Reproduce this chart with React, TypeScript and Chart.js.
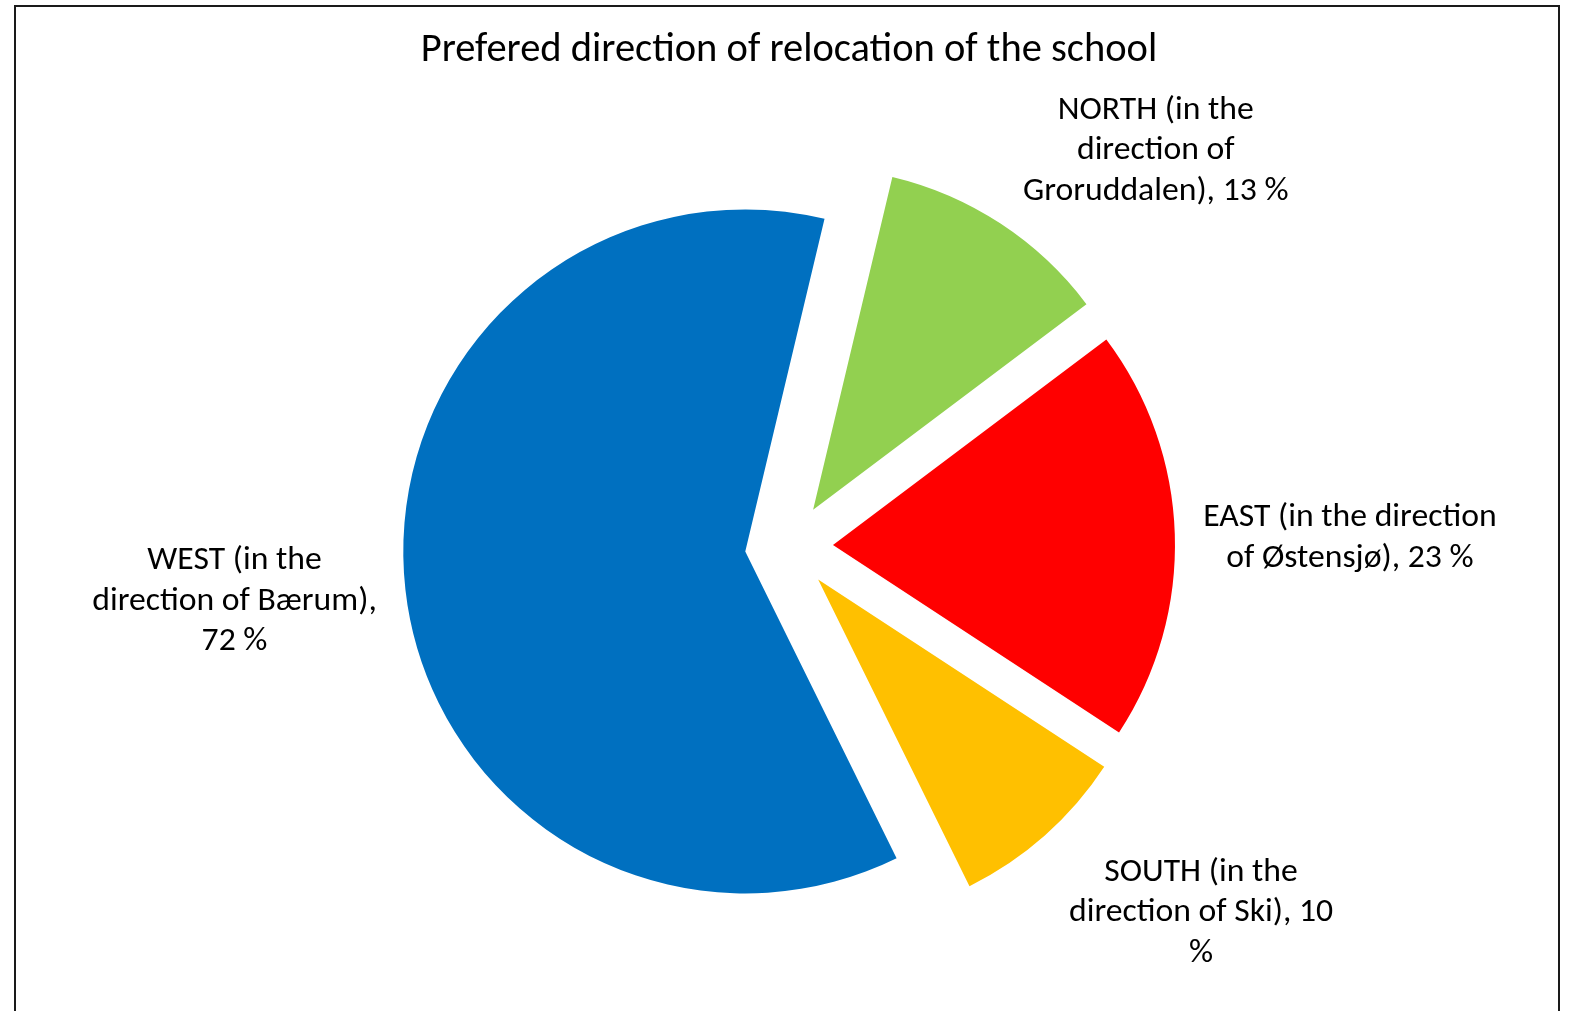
import React, { useEffect, useRef } from "react";
import { Chart, registerables } from "chart.js";

Chart.register(...registerables);

const TITLE = "Prefered direction of relocation of the school";
const categories = [
  "NORTH (in the direction of Groruddalen)",
  "EAST (in the direction of Østensjø)",
  "SOUTH (in the direction of Ski)",
  "WEST (in the direction of Bærum)",
];
const values = [13, 23, 10, 72];
const colors = ["#92D050", "#FF0000", "#FFC000", "#0070C0"];
// words per wrapped line of each data label
const lineWordCounts = [
  [3, 2, 3],
  [4, 4],
  [3, 4, 1],
  [3, 3, 2],
];

const FONT = "Calibri, Carlito, Lato, sans-serif";
const W = 1570;
const H = 1011;

// layout (not data): explosion distance and label placement
const explode = [44, 44, 44, 44];
const labelNudgeDeg = [9.45, 0.8, -7.0, 1.0];
const labelDist = [541, 561, 550, 557];
const labelFontSize = 33.7;
const labelLineHeight = 40.7;
const labelShiftY = 2;

function wrapLabel(i: number): string[] {
  const words = `${categories[i]}, ${values[i]} %`.split(" ");
  const out: string[] = [];
  let k = 0;
  for (const n of lineWordCounts[i]) {
    out.push(words.slice(k, k + n).join(" "));
    k += n;
  }
  return out;
}

const explodePlugin = {
  id: "explodeSlices",
  beforeDatasetDraw(chart: any, args: any) {
    const { ctx } = chart;
    args.meta.data.forEach((arc: any, i: number) => {
      const d = explode[i] ?? 0;
      const mid = (arc.startAngle + arc.endAngle) / 2;
      ctx.save();
      ctx.translate(Math.cos(mid) * d, Math.sin(mid) * d);
      arc.draw(ctx, chart.chartArea);
      ctx.restore();
    });
    return false;
  },
};

const labelPlugin = {
  id: "sliceLabels",
  afterDatasetsDraw(chart: any) {
    const { ctx } = chart;
    const meta = chart.getDatasetMeta(0);
    ctx.save();
    ctx.font = `${labelFontSize}px ${FONT}`;
    ctx.fillStyle = "#000000";
    ctx.textAlign = "center";
    ctx.textBaseline = "middle";
    meta.data.forEach((arc: any, i: number) => {
      const mid = (arc.startAngle + arc.endAngle) / 2 + (labelNudgeDeg[i] * Math.PI) / 180;
      const cx = arc.x + Math.cos(mid) * labelDist[i];
      const cy = arc.y + Math.sin(mid) * labelDist[i] + labelShiftY;
      const lines = wrapLabel(i);
      const top = cy - ((lines.length - 1) * labelLineHeight) / 2;
      lines.forEach((ln, j) => ctx.fillText(ln, cx, top + j * labelLineHeight));
    });
    ctx.restore();
  },
};

export default function App() {
  const ref = useRef<HTMLCanvasElement>(null);

  useEffect(() => {
    if (!ref.current) return;
    const chart = new Chart(ref.current, {
      type: "pie",
      data: {
        labels: categories,
        datasets: [
          {
            data: values,
            backgroundColor: colors,
            borderWidth: 0,
            hoverOffset: 0,
          },
        ],
      },
      options: {
        responsive: false,
        animation: false,
        rotation: 13.4,
        radius: 342,
        layout: { padding: { left: 8, right: 0, top: 0, bottom: 0 } },
        plugins: {
          legend: { display: false },
          tooltip: { enabled: false },
          title: {
            display: true,
            text: TITLE,
            color: "#000000",
            font: { family: FONT, size: 40.5, weight: "normal", lineHeight: 1.2 },
            padding: { top: 26.7, bottom: 6.7 },
          },
        },
      } as any,
      plugins: [explodePlugin, labelPlugin],
    });
    return () => chart.destroy();
  }, []);

  return (
    <div
      style={{
        position: "fixed",
        left: 0,
        top: 0,
        width: W,
        height: H,
        overflow: "hidden",
        background: "#ffffff",
      }}
    >
      <canvas
        ref={ref}
        width={W}
        height={H}
        style={{ position: "absolute", left: 0, top: 0, width: W, height: H }}
      />
      <div
        style={{
          position: "absolute",
          left: 14,
          top: 5,
          width: 1542,
          height: H,
          border: "2px solid #1a1a1a",
          borderBottom: "none",
          pointerEvents: "none",
        }}
      />
    </div>
  );
}
